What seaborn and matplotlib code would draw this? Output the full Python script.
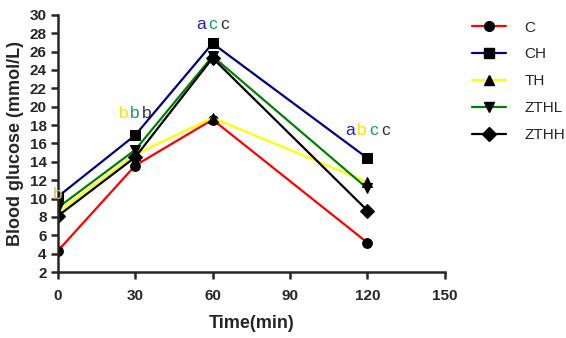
import numpy as np
import pandas as pd
import matplotlib
matplotlib.use('Agg')
import matplotlib.pyplot as plt
import seaborn as sns

# ---- data ----
time_min = [0, 30, 60, 120]
groups = ['C', 'CH', 'TH', 'ZTHL', 'ZTHH']
glc_C = [4.3, 13.6, 18.6, 5.2]
glc_CH = [10.2, 16.9, 26.9, 14.4]
glc_TH = [8.5, 14.8, 18.8, 11.8]
glc_ZTHL = [9.0, 15.3, 25.5, 11.1]
glc_ZTHH = [8.1, 14.5, 25.3, 8.7]

colors = ['#FF0000', '#000080', '#FFFF00', '#008000', '#000000']
markers = ['o', 's', '^', 'v', 'D']

# significance letters: (x, y, letters, colours)
sig_letters = [
    (0, 10.5, 'b', ['#c9c27a']),
    (30, 19.3, 'bbb', ['#FFE000', '#1a9a60', '#333333']),
    (60, 28.9, 'acc', ['#2020C0', '#1a9a60', '#333333']),
    (120, 17.4, 'abcc', ['#2020C0', '#FFE000', '#1a9a60', '#333333']),
]

df = pd.DataFrame({
    'time': time_min * 5,
    'glucose': glc_C + glc_CH + glc_TH + glc_ZTHL + glc_ZTHH,
    'group': sum([[g] * 4 for g in groups], []),
})

sns.set_style('ticks')
plt.rcParams['font.family'] = ['Liberation Sans', 'DejaVu Sans']

fig = plt.figure(figsize=(5.66, 3.38), dpi=100)
ax = fig.add_axes([0.102, 0.195, 0.684, 0.761])

sns.lineplot(data=df, x='time', y='glucose', hue='group', style='group',
             hue_order=groups, style_order=groups,
             palette=colors, markers=markers, dashes=False,
             markersize=7, linewidth=1.6, markeredgecolor='black',
             ax=ax, legend=False)
for line in ax.lines:
    line.set_markerfacecolor('black')
    line.set_markeredgecolor('black')

ax.set_xlim(0, 150)
ax.set_ylim(2, 30)
ax.set_xticks(range(0, 151, 30))
ax.set_yticks(range(2, 31, 2))
for lab in ax.get_xticklabels() + ax.get_yticklabels():
    lab.set_fontweight('bold')
    lab.set_fontsize(11)
ax.tick_params(width=1.8, length=5, direction='out', pad=3)
ax.tick_params(axis='x', pad=7)
for s in ['left', 'bottom']:
    ax.spines[s].set_linewidth(1.8)
sns.despine(ax=ax)
ax.spines['left'].set_bounds(2, 30)
ax.set_xlabel('Time(min)', fontweight='bold', fontsize=13, labelpad=9)
ax.set_ylabel('Blood glucose (mmol/L)', fontweight='bold', fontsize=13, labelpad=4)

for x, y, txt, cols in sig_letters:
    w = 8.5
    start = -w * (len(txt) - 1) / 2
    for i, (ch, c) in enumerate(zip(txt, cols)):
        ax.annotate(ch, xy=(x, y), xytext=(start + i * w, 0), textcoords='offset points',
                    ha='center', va='center', color=c, fontsize=12.5, annotation_clip=False)

# legend on the right
handles = [plt.Line2D([], [], color=c, marker=m, markerfacecolor='black',
                      markeredgecolor='black', markersize=7, linewidth=1.6)
           for c, m in zip(colors, markers)]
fig.legend(handles, groups, loc='upper left', bbox_to_anchor=(0.81, 0.98),
           frameon=False, fontsize=11, handlelength=2.2, labelspacing=0.85,
           handletextpad=1.2)

fig.savefig('out.png', dpi=100)
